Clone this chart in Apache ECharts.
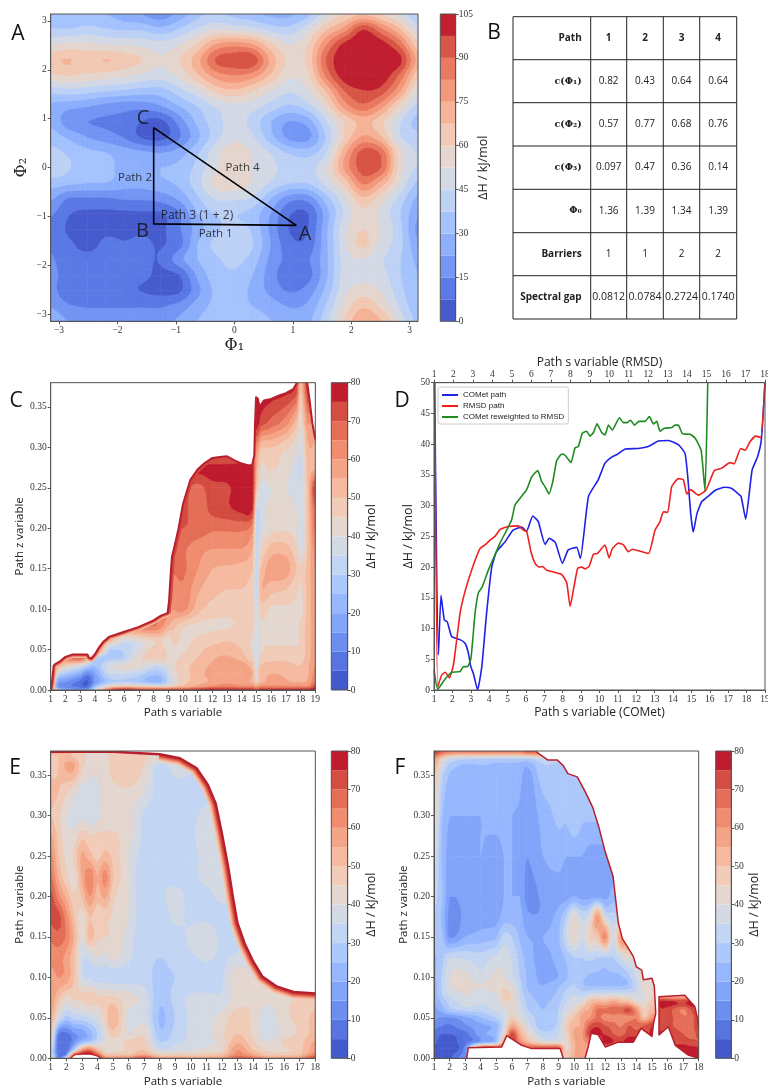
<!DOCTYPE html>
<html><head><meta charset="utf-8">
<script src="https://cdn.jsdelivr.net/npm/echarts@6/dist/echarts.min.js"></script>
<style>html,body{margin:0;background:#fff}#c{width:768px;height:1088px}</style></head>
<body><div id="c"></div>
<script>
const X = null; // outside of the explored region (covered by the white mask)
const W = 90;   // above the colour range: left white, as in the figure
const PI = 3.14159;

// ---------- Panel A: enthalpy surface ----------
const phi1A = [-3.14,-2.83,-2.51,-2.2,-1.88,-1.57,-1.26,-.94,-.63,-.31,0,.31,.63,.94,1.26,1.57,1.88,2.2,2.51,2.83,3.14];
const phi2A = [3.14,2.83,2.51,2.2,1.88,1.57,1.26,.94,.63,.31,0,-.31,-.63,-.94,-1.26,-1.57,-1.88,-2.2,-2.51,-2.83,-3.14];
const enthalpyA = [
[32,30,32,30,26,22,18,25,35,38,35,32,28,28,35,50,60,66,60,50,38],
[38,38,40,38,36,36,32,38,46,52,50,48,42,40,50,66,78,97,84,68,48],
[52,55,55,52,52,50,48,52,62,76,80,76,62,52,60,82,100,104,102,88,62],
[66,68,64,68,64,60,53,60,72,91,94,95,72,58,62,90,104,104,104,100,72],
[58,60,58,56,54,50,48,54,66,78,82,78,66,54,58,84,102,104,103,88,62],
[40,42,40,38,36,34,34,42,50,62,66,60,52,46,52,68,90,97,94,76,52],
[28,25,23,20,18,18,22,30,38,46,50,48,42,36,42,56,78,88,78,58,42],
[28,18,15,14,13,7,5,18,32,42,48,42,30,22,26,44,60,70,62,46,34],
[34,28,22,18,14,6,4,14,28,42,50,46,32,20,20,38,60,76,68,46,40],
[40,36,32,30,26,24,22,26,36,50,58,52,44,36,34,44,72,93,88,56,44],
[44,38,34,32,28,30,30,32,40,52,56,52,46,44,42,52,76,94,90,56,44],
[34,32,30,30,26,26,28,32,42,56,58,52,44,38,38,48,62,84,72,52,36],
[24,14,14,14,16,16,18,24,36,46,46,44,30,18,18,34,50,66,56,42,28],
[16,8,6,6,6,6.5,6.5,14,30,38,38,34,22,8,7,26,46,58,50,38,24],
[14,6,5,6,6,6.5,6,14,26,36,40,36,20,7,7,28,50,60,52,40,20],
[14,9,5,9,8,9,7,12,30,40,44,38,22,10,10,28,50,62,50,40,24],
[16,10,10,10,10,9,8,20,30,36,40,34,20,13,14,28,48,52,46,38,28],
[18,10,10,10,10,9,6,7,24,34,36,30,18,10,12,28,48,50,48,38,30],
[18,8,8,9,9,7,5,6,20,32,34,28,20,14,18,32,50,56,52,40,30],
[22,16,14,14,14,14,14,18,26,32,32,30,26,22,24,38,55,66,58,44,32],
[28,22,22,22,22,22,20,24,30,35,36,34,30,24,28,42,60,75,68,50,35]];
const trianglePhi1 = [-1.38,-1.38,1.06,-1.38];
const trianglePhi2 = [0.82,-1.15,-1.18,0.82];
const labelsA = [["A",1.21,-1.36,20],["B",-1.57,-1.31,20],["C",-1.56,1.0,20],["Path 2",-1.7,-.2,11.5],["Path 4",.14,0,11.5],["Path 3 (1 + 2)",-.64,-.97,12],["Path 1",-.32,-1.36,11.5]];

// ---------- Panel B: table ----------
const tableRows = [
["Path","1","2","3","4"],
["c(Φ₁)","0.82","0.43","0.64","0.64"],
["c(Φ₂)","0.57","0.77","0.68","0.76"],
["c(Φ₃)","0.097","0.47","0.36","0.14"],
["Φ₀","1.36","1.39","1.34","1.39"],
["Barriers","1","1","2","2"],
["Spectral gap","0.0812","0.0784","0.2724","0.1740"]];

// ---------- Panel C ----------
const sC = [1,1.5,2,3,3.5,4,5,6,7,8,8.5,9,9.3,10,11,12,13,14,14.7,15,15.3,16,17,17.7,18,18.5,19];
const zC = [0,.004,.01,.02,.03,.04,.05,.06,.08,.1,.125,.15,.175,.2,.225,.25,.275,.3,.33,.38];
const enthalpyC = [
[60,30,20,15,18,35,68,78,72,70,70,70,72,72,75,78,76,76,76,70,75,76,76,76,76,76,78],
[50,15,12,8,6,25,45,50,48,45,45,45,48,52,58,62,65,62,62,58,62,62,62,62,62,62,72],
[55,18,15,8,4,15,28,30,28,22,24,32,38,48,52,56,58,56,54,45,52,58,56,54,54,56,65],
[70,35,28,20,12,18,35,35,32,26,28,35,42,48,52,58,60,60,55,42,52,55,54,52,52,54,62],
[78,55,45,38,30,25,38,42,42,36,36,40,44,48,52,56,60,58,52,38,50,52,52,50,50,54,60],
[X,78,68,70,58,32,28,30,44,46,48,44,44,46,50,54,56,52,46,36,46,48,48,48,48,52,60],
[X,X,X,X,X,75,30,32,38,48,50,42,44,44,48,52,52,50,44,35,44,46,46,46,46,52,58],
[X,X,X,X,X,X,50,36,40,44,46,40,46,44,46,48,50,48,44,35,44,44,44,44,46,52,58],
[X,X,X,X,X,X,X,X,X,66,62,55,52,46,44,44,44,46,46,37,44,44,44,44,46,52,58],
[X,X,X,X,X,X,X,X,X,X,X,62,60,62,52,48,47,47,47,36,47,44,44,44,42,52,58],
[X,X,X,X,X,X,X,X,X,X,X,X,62,64,56,52,50,50,47,33,54,52,50,46,44,52,58],
[X,X,X,X,X,X,X,X,X,X,X,X,66,66,60,55,54,53,50,33,50,58,58,50,46,52,60],
[X,X,X,X,X,X,X,X,X,X,X,X,70,66,62,60,60,60,55,33,44,52,52,46,38,50,62],
[X,X,X,X,X,X,X,X,X,X,X,X,X,70,68,66,66,66,62,32,38,43,44,42,36,50,66],
[X,X,X,X,X,X,X,X,X,X,X,X,X,72,66,72,74,77,76,36,38,42,42,40,36,50,68],
[X,X,X,X,X,X,X,X,X,X,X,X,X,72,68,73,74,78,78,50,38,40,40,38,36,50,75],
[X,X,X,X,X,X,X,X,X,X,X,X,X,X,76,77,77,78,78,55,44,46,42,38,34,52,X],
[X,X,X,X,X,X,X,X,X,X,X,X,X,X,X,X,X,X,X,62,50,50,46,42,36,54,X],
[X,X,X,X,X,X,X,X,X,X,X,X,X,X,X,X,X,X,X,78,72,68,62,52,42,60,X],
[X,X,X,X,X,X,X,X,X,X,X,X,X,X,X,X,X,X,X,X,79,79,79,76,50,78,X]];
const edgeC = [[[1,0],[1.1,.012],[1.2,.03],[1.3,.032],[1.6,.035],[2,.041],[2.5,.044],[3,.044],[3.5,.044],[3.6,.04],[3.75,.039],[4,.044],[4.3,.053],[4.6,.06],[5,.066],[5.5,.069],[6,.072],[6.5,.075],[7,.078],[7.5,.082],[8,.086],[8.5,.092],[8.95,.095],[9.05,.11],[9.15,.14],[9.25,.165],[9.45,.18],[9.7,.2],[10,.23],[10.5,.26],[11,.273],[11.5,.281],[12,.287],[12.5,.288],[13,.289],[13.5,.284],[14,.28],[14.4,.278],[14.7,.278],[14.85,.29],[14.9,.33],[14.97,.362],[15.1,.36],[15.2,.35],[15.5,.358],[16,.36],[16.5,.364],[17,.367],[17.5,.372],[17.75,.38],[18.45,.38],[18.6,.36],[18.8,.33],[19,.31],[19,.38],[1,.38]]];

// ---------- Panel D ----------
const cometPath = [[1.03,50],[1.24,5.7],[1.38,15.4],[1.56,11.4],[1.72,11.1],[1.96,8.7],[2.41,8.2],[2.69,7.6],[2.87,6],[3,3.8],[3.14,2.7],[3.37,0],[3.6,3.8],[3.86,12.5],[4.14,20],[4.4,22.5],[4.86,24.1],[5.3,26],[5.77,26.5],[6.03,25.8],[6.37,28.3],[6.67,27.4],[7.04,23.7],[7.27,24.7],[7.6,24],[7.98,20.6],[8.3,22.8],[8.76,23.2],[8.96,21.4],[9.4,31.5],[9.93,34.2],[10.3,36.9],[10.66,37.9],[11,38.4],[11.4,39.2],[12.1,39.3],[12.65,39.6],[13.2,40.5],[13.74,40.6],[14.3,39.9],[14.65,38.5],[14.8,34.7],[14.96,28.7],[15.1,25.7],[15.3,28.7],[15.55,30.6],[15.9,31.5],[16.3,32.5],[16.8,33],[17.2,32.8],[17.55,31.9],[17.7,31.5],[17.95,27.8],[18.3,35.8],[18.6,38],[18.8,40.7],[19,50]];
const rmsdPath = [[1.03,50],[1.19,.5],[1.39,2.4],[1.57,2.9],[1.79,2],[2,4.1],[2.34,12.5],[2.59,16],[2.93,19.5],[3.36,23],[3.62,23.6],[3.88,24.4],[4.13,25],[4.39,26.1],[4.82,26.6],[5.33,26.7],[5.59,26],[5.76,25.8],[5.98,22.5],[6.19,20.6],[6.39,20],[6.57,20.1],[6.79,19.5],[7.56,18.8],[7.82,17.4],[7.99,13.6],[8.19,16.8],[8.38,19.8],[8.59,20],[8.76,19.7],[8.96,20.1],[9.19,22.1],[9.39,22.2],[9.78,23.6],[9.99,21.5],[10.16,23],[10.47,23.9],[10.73,23.6],[10.98,22.5],[11.19,22.9],[12.01,22.2],[12.35,26],[12.61,27.4],[12.78,29],[13,28.9],[13.21,33.1],[13.55,34.4],[13.81,34.2],[13.98,31.9],[14.18,32.6],[14.58,31.7],[14.96,32.5],[15.4,35.7],[15.78,36.1],[16.2,37],[16.41,36.8],[16.75,39.3],[16.98,39],[17.23,40.4],[17.52,41.3],[17.78,41.1],[18,50]];
const reweightedPath = [[1,3.3],[1.19,.1],[1.48,1.4],[1.74,2.4],[1.91,2.9],[2.34,3],[2.51,3.8],[2.73,3.8],[2.9,5.2],[3.11,12.5],[3.28,15.8],[3.48,16.8],[3.79,19.5],[4.13,22],[4.39,23.9],[4.78,26.3],[4.99,27.7],[5.16,30.1],[5.42,31.2],[5.76,32.6],[6.02,34.7],[6.33,35.7],[6.53,33.9],[6.7,33.1],[6.91,31.9],[7.1,33.9],[7.3,37.3],[7.56,38.4],[7.73,38.2],[8.04,37],[8.24,39.4],[8.41,39.6],[8.62,41.8],[8.84,42.1],[9.01,41.3],[9.19,41.9],[9.37,43.3],[9.61,41.9],[9.78,41.5],[9.96,43.1],[10.16,42.3],[10.52,44.3],[10.73,43.5],[10.9,43.5],[11.1,43.9],[11.29,43.1],[11.53,43.7],[11.84,43.7],[12.06,44.5],[12.27,43.3],[12.44,43.7],[12.61,42.1],[12.83,42.6],[13.21,42.7],[13.38,43.1],[13.55,43.1],[13.76,41.7],[14.15,41.6],[14.41,41],[14.72,39],[14.92,32.4],[15.06,50]];

// ---------- Panel E ----------
const sE = [1,1.5,2,2.5,3,3.5,4,4.5,5,6,7,8,9,10,11,12,13,14,15,16,17,18];
const zE = [0,.004,.01,.02,.03,.05,.075,.1,.125,.15,.175,.2,.225,.25,.275,.3,.33,.36,.375,.38];
const enthalpyE = [
[50,10,40,W,W,W,85,62,60,62,72,56,58,56,56,58,70,66,58,58,60,74],
[40,8,14,70,80,80,70,50,50,50,56,46,46,46,48,50,62,56,48,48,50,64],
[36,6,6,30,58,66,52,42,42,46,50,36,38,40,42,44,60,50,44,44,48,58],
[45,5,5,14,24,28,35,40,42,46,46,30,34,36,38,42,54,46,40,46,48,56],
[50,10,8,14,17,22,30,40,48,40,44,26,32,36,38,44,50,44,36,42,46,52],
[55,38,28,32,32,35,38,46,55,38,38,24,30,36,38,42,48,44,36,44,46,52],
[60,50,44,46,46,48,46,46,46,42,38,26,32,36,36,36,42,44,42,44,45,46],
[58,60,58,50,36,34,32,32,32,32,32,28,30,30,32,34,44,40,40,X,X,X],
[62,62,58,50,36,36,40,38,42,36,32,30,32,34,36,34,36,X,X,X,X,X],
[66,68,64,54,40,52,46,45,44,38,30,32,33,36,38,34,X,X,X,X,X,X],
[72,72,62,50,42,50,46,46,44,40,30,32,36,34,34,33,X,X,X,X,X,X],
[72,62,54,46,50,60,52,56,46,40,30,34,36,34,34,36,X,X,X,X,X,X],
[66,54,46,42,55,64,55,62,50,40,30,34,34,34,36,36,X,X,X,X,X,X],
[62,50,44,46,56,52,48,52,48,40,32,34,34,34,36,X,X,X,X,X,X,X],
[56,48,42,42,48,46,46,46,46,42,34,34,34,34,38,X,X,X,X,X,X,X],
[50,46,40,38,38,36,38,42,42,42,34,33,34,34,36,X,X,X,X,X,X,X],
[52,50,46,42,38,38,38,44,44,44,40,32,32,34,X,X,X,X,X,X,X,X],
[48,50,56,56,46,42,42,44,46,50,44,32,38,36,X,X,X,X,X,X,X,X],
[50,50,52,48,46,44,44,44,46,46,46,44,X,X,X,X,X,X,X,X,X,X],
[58,58,54,48,46,44,44,44,46,46,46,44,X,X,X,X,X,X,X,X,X,X]];
const edgeE = [[[1,.379],[5,.379],[8,.376],[9.3,.371],[10.36,.359],[11.1,.338],[11.6,.315],[12,.278],[12.4,.237],[12.7,.2],[13,.167],[13.46,.142],[14,.12],[14.6,.101],[15.5,.089],[16.6,.082],[18,.08],[18,.38],[1,.38]]];

// ---------- Panel F ----------
const sF = [1,1.5,2,3,4,5,5.5,6,6.5,7,8,9,9.5,10,10.5,11,11.5,12,12.5,13,13.5,14,14.5,15,15.3,15.5,16,17,17.5,18];
const zF = [0,.012,.02,.03,.04,.05,.06,.07,.08,.09,.1,.125,.15,.175,.2,.25,.3,.35,.37,.38];
const enthalpyF = [
[4,4,4,14,X,X,X,X,X,X,X,X,48,55,60,X,X,X,X,X,X,X,X,X,X,X,X,X,X,76],
[4,3,3,12,70,70,76,78,76,70,70,70,44,54,58,X,X,X,X,X,X,X,X,X,X,X,X,X,76,76],
[6,3,3,8,16,25,58,76,62,52,40,40,42,54,58,62,X,78,75,72,78,X,X,X,X,X,X,74,72,70],
[8,5,5,8,18,24,42,72,55,44,32,35,44,56,58,74,76,74,70,68,72,72,72,76,X,X,76,70,66,72],
[12,10,9,14,18,22,36,56,48,38,26,32,46,54,56,70,74,70,68,64,70,68,70,74,X,X,72,66,66,76],
[16,14,14,18,24,30,36,46,40,34,26,30,42,50,56,60,66,62,62,60,62,64,50,60,X,X,72,66,66,76],
[18,22,28,32,32,36,38,42,38,30,25,30,38,42,52,56,66,66,68,68,72,60,46,52,X,X,72,64,70,76],
[20,26,32,38,36,38,44,44,36,28,24,28,34,38,40,50,54,52,56,52,50,42,40,48,X,X,76,74,76,X],
[22,30,36,40,38,40,46,44,34,26,22,26,32,34,32,34,36,36,36,36,36,36,40,42,X,X,X,X,X,X],
[22,30,40,44,40,44,44,40,32,24,20,24,28,30,26,24,24,24,24,24,26,34,44,44,X,X,X,X,X,X],
[24,30,40,42,36,42,40,36,30,24,18,20,24,28,26,24,24,24,24,24,28,36,44,X,X,X,X,X,X,X],
[24,28,34,34,32,36,38,34,28,22,18,22,26,30,30,32,30,30,30,36,42,X,X,X,X,X,X,X,X,X],
[28,26,14,20,22,24,32,30,24,20,20,24,35,45,35,46,48,62,36,60,X,X,X,X,X,X,X,X,X,X],
[30,24,13,16,18,18,22,22,22,16,16,22,30,42,34,38,60,36,32,X,X,X,X,X,X,X,X,X,X,X],
[32,26,15,17,18,18,20,20,20,13,16,18,18,20,18,18,18,18,22,X,X,X,X,X,X,X,X,X,X,X],
[38,24,18,18,20,18,20,20,18,15,20,22,20,20,20,18,18,X,X,X,X,X,X,X,X,X,X,X,X,X],
[46,26,20,20,20,22,22,20,19,16,22,26,26,30,26,26,X,X,X,X,X,X,X,X,X,X,X,X,X,X],
[50,32,24,20,22,24,24,24,22,17,28,26,26,X,X,X,X,X,X,X,X,X,X,X,X,X,X,X,X,X],
[60,44,34,30,30,28,28,28,28,28,34,X,X,X,X,X,X,X,X,X,X,X,X,X,X,X,X,X,X,X],
[76,70,66,66,66,66,66,66,66,72,X,X,X,X,X,X,X,X,X,X,X,X,X,X,X,X,X,X,X,X]];
const edgeF = [
[[7.5,.38],[8,.373],[8.3,.369],[8.9,.369],[9.3,.362],[9.6,.352],[10.2,.348],[10.7,.33],[11.2,.31],[11.6,.285],[12,.255],[12.5,.225],[12.84,.167],[13.1,.148],[13.8,.126],[14,.113],[14.34,.109],[14.45,.097],[15,.099],[15.15,.089],[15.24,.056],[15.1,.043],[15,.027],[14.3,.037],[13.8,.02],[12.84,.02],[12,.014],[11.55,.029],[11.1,.031],[10.9,.014],[10.7,0],[18,0],[17.33,.004],[16.5,.016],[16.05,.039],[15.45,.029],[15.45,.076],[17.1,.078],[17.75,.064],[18,.043],[18,.38]],
[[9.3,0],[9.1,.012],[7.27,.012],[6.63,.016],[5.67,.028],[5.35,.014],[3.2,.013],[3.1,0]]];

// ---------- axis ticks ----------
const ticksPhi = [-3,-2,-1,0,1,2,3];
const ticksZ = [0,.05,.1,.15,.2,.25,.3,.35];
const ticksBar105 = [0,15,30,45,60,75,90,105];
const ticksBar80 = [0,10,20,30,40,50,60,70,80];

// ---------- styles ----------
const cool = ['#3b4cc0','#5977e3','#7b9ff9','#9ebeff','#c0d4f5','#dddcdc','#f2cbb7','#f7ac8e','#ee8468','#d65244','#b40426'];
function hex(c){return [1,3,5].map(i=>parseInt(c.substr(i,2),16));}
function cmap(t){t=Math.max(0,Math.min(1,t))*10;const i=Math.min(9,Math.floor(t)),f=t-i,a=hex(cool[i]),b=hex(cool[i+1]);
  return 'rgb('+a.map((v,k)=>Math.round(v+(b[k]-v)*f)).join(',')+')';}
const SERIF='"Liberation Serif","DejaVu Serif",serif', SANS='"Open Sans","DejaVu Sans",sans-serif';
const TICK={color:'#333',fontFamily:SERIF,fontSize:9.5};
const LINE={lineStyle:{color:'#555',width:1}};

const grids=[],xAxes=[],yAxes=[],series=[];
function addGrid(l,t,w,h){grids.push({left:l,top:t,width:w,height:h,containLabel:false,outerBoundsMode:'none'});return grids.length-1;}
function xAx(g,o){xAxes.push(Object.assign({type:'value',gridIndex:g,z:6,splitLine:{show:false},axisLine:Object.assign({onZero:false,show:true},LINE),
  axisTick:Object.assign({show:true,length:3},LINE),axisLabel:Object.assign({margin:4},TICK),
  nameLocation:'middle',nameTextStyle:{fontFamily:SANS,fontSize:11.5,color:'#222'}},o));return xAxes.length-1;}
function yAx(g,o){yAxes.push(Object.assign({type:'value',gridIndex:g,z:6,splitLine:{show:false},axisLine:Object.assign({onZero:false,show:true},LINE),
  axisTick:Object.assign({show:true,length:3},LINE),axisLabel:Object.assign({margin:4},TICK),
  nameLocation:'middle',nameTextStyle:{fontFamily:SANS,fontSize:11.5,color:'#222'}},o));return yAxes.length-1;}

// Values under the mask take the nearest readable value of their row.
function under(M){return M.map(r=>r.map((v,i)=>{if(v!==null)return v;
  for(let d=1;d<r.length;d++){if(r[i-d]!=null)return r[i-d];if(r[i+d]!=null)return r[i+d];}return 50;}));}
const cr=(a,b,c,d,t)=>b+.5*t*(c-a+t*(2*a-5*b+4*c-d+t*(3*(b-c)+d-a)));
const SUB=4;
// Filled contour bands for each cell of a value grid, projected through the axes.
function contour(xi,yi,xs,ys,M0,step,vmax,whiteAbove){
  const M=under(M0),nx=xs.length-1,ny=ys.length-1,data=[];
  for(let j=0;j<ny;j++)for(let i=0;i<nx;i++)
    data.push([xs[i],ys[j],xs[i+1],ys[j+1],M[j][i],M[j][i+1],M[j+1][i+1],M[j+1][i],i,j]);
  const n=Math.round(vmax/step),cols=[];
  for(let k=0;k<n;k++)cols.push(cmap((k+.5)/n));
  if(whiteAbove)cols.push('#ffffff');
  const at=(j,i)=>M[Math.max(0,Math.min(ny,j))][Math.max(0,Math.min(nx,i))];
  function val(i,j,u,v){
    const row=q=>cr(at(q,i-1),at(q,i),at(q,i+1),at(q,i+2),u);
    const r=cr(row(j-1),row(j),row(j+1),row(j+2),v);
    const c=[at(j,i),at(j,i+1),at(j+1,i),at(j+1,i+1)];
    return Math.max(Math.min(...c),Math.min(Math.max(...c),r));
  }
  series.push({type:'custom',xAxisIndex:xi,yAxisIndex:yi,clip:true,z:2,silent:true,animation:false,progressive:0,
    encode:{x:[0,2],y:[1,3]},data,
    renderItem(p,api){
      const x0=api.value(0),y0=api.value(1),x1=api.value(2),y1=api.value(3),i=api.value(8),j=api.value(9);
      const A=api.coord([x0,y0]),B=api.coord([x1,y1]);
      const V=[],P=[];let mn=1e9,mx=-1e9;
      for(let b=0;b<=SUB;b++){V.push([]);P.push([]);for(let a=0;a<=SUB;a++){
        const u=a/SUB,w=b/SUB,vv=val(i,j,u,w);V[b].push(vv);P[b].push([A[0]+(B[0]-A[0])*u,A[1]+(B[1]-A[1])*w]);
        mn=Math.min(mn,vv);mx=Math.max(mx,vv);}}
      const ch=[];
      const k0=Math.max(0,Math.min(cols.length-1,Math.floor(mn/step)));
      ch.push({type:'polygon',z2:k0,shape:{points:[A,[B[0],A[1]],B,[A[0],B[1]]]},style:{fill:cols[k0],stroke:cols[k0],lineWidth:.6}});
      for(let k=k0+1;k<cols.length&&k*step<mx;k++){
        const L=k*step;let d='';
        for(let b=0;b<SUB;b++)for(let a=0;a<SUB;a++){
          const qv=[V[b][a],V[b][a+1],V[b+1][a+1],V[b+1][a]],qp=[P[b][a],P[b][a+1],P[b+1][a+1],P[b+1][a]],poly=[];
          for(let q=0;q<4;q++){const r=(q+1)%4,vq=qv[q],vr=qv[r],Q=qp[q],R=qp[r];
            if(vq>=L)poly.push(Q);
            if((vq>=L)!==(vr>=L)){const f=(L-vq)/(vr-vq);poly.push([Q[0]+(R[0]-Q[0])*f,Q[1]+(R[1]-Q[1])*f]);}}
          if(poly.length>2)d+='M'+poly.map(q=>q[0].toFixed(2)+' '+q[1].toFixed(2)).join('L')+'Z';
        }
        if(d)ch.push({type:'path',z2:k,shape:{pathData:d},style:{fill:cols[k],stroke:cols[k],lineWidth:.4}});
      }
      return {type:'group',children:ch};
    }});
}
// Frame around a plot, above its marks.
function frame(xi,yi,x0,y0,x1,y1){
  series.push({type:'custom',xAxisIndex:xi,yAxisIndex:yi,clip:false,z:7,silent:true,animation:false,
    encode:{x:[0,2],y:[1,3]},data:[[x0,y0,x1,y1]],
    renderItem(p,api){const a=api.coord([api.value(0),api.value(1)]),b=api.coord([api.value(2),api.value(3)]);
      return {type:'rect',shape:{x:a[0],y:b[1],width:b[0]-a[0],height:a[1]-b[1]},style:{fill:null,stroke:'#555',lineWidth:1}};}});
}
// White outside of the explored region, with its graded red rim.
// glow entries: half width in px, value for the colour, s range along the edge.
function edge(xi,yi,rings,sMax,zMax,rim,glow){
  series.push({type:'custom',xAxisIndex:xi,yAxisIndex:yi,clip:true,z:3,silent:true,animation:false,
    encode:{x:0,y:1},data:rings.map((r,i)=>[r[0][0],r[0][1],i]),
    renderItem(p,api){
      const ring=rings[api.value(2)],pts=ring.map(q=>api.coord(q));
      const isFrame=(a,b)=>(a[1]===b[1]&&(a[1]===0||a[1]===zMax))||(a[0]===b[0]&&a[0]===sMax);
      const runsFor=(lo,hi)=>{const runs=[];let run=[];
        for(let i=0;i<ring.length-1;i++){const a=ring[i],b=ring[i+1],m=(a[0]+b[0])/2;
          if(isFrame(a,b)||m<lo||m>hi){if(run.length>1)runs.push(run);run=[];continue;}
          if(!run.length)run.push(pts[i]);run.push(pts[i+1]);}
        if(run.length>1)runs.push(run);return runs;};
      const ch=[];let z=0;
      glow.forEach(g=>runsFor(g[2],g[3]).forEach(r=>ch.push({type:'polyline',z2:z++,shape:{points:r},style:{fill:null,stroke:cmap(g[1]/80),lineWidth:g[0]*2,lineJoin:'round'}})));
      ch.push({type:'polygon',z2:z++,shape:{points:pts},style:{fill:'#fff'}});
      runsFor(-1,99).forEach(r=>ch.push({type:'polyline',z2:z++,shape:{points:r},style:{fill:null,stroke:'#b81f2d',lineWidth:rim,lineJoin:'round'}}));
      return {type:'group',children:ch};
    }});
}
function colorbar(l,t,w,h,vmax,step,ticks,gap){
  const g=addGrid(l,t,w,h);
  const xi=xAx(g,{min:0,max:1,show:false});
  const yi=yAx(g,{min:0,max:vmax,position:'right',name:'ΔH / kJ/mol',nameGap:gap,nameRotate:90,
    axisLine:{show:true,onZero:false,lineStyle:{color:'#555',width:1}},
    axisTick:{show:true,length:3,customValues:ticks,lineStyle:{color:'#555'}},
    axisLabel:Object.assign({margin:3,customValues:ticks},TICK),nameTextStyle:{fontFamily:SANS,fontSize:12.5,color:'#222'}});
  const n=Math.round(vmax/step),d=[];for(let k=0;k<n;k++)d.push([0,k*step,1,(k+1)*step,(k+.5)/n]);
  series.push({type:'custom',xAxisIndex:xi,yAxisIndex:yi,z:2,silent:true,animation:false,encode:{x:[0,2],y:[1,3]},data:d,
    renderItem(p,api){const a=api.coord([api.value(0),api.value(1)]),b=api.coord([api.value(2),api.value(3)]);
      return {type:'rect',shape:{x:a[0],y:b[1],width:b[0]-a[0],height:a[1]-b[1]},style:{fill:cmap(api.value(4))}};}});
  frame(xi,yi,0,0,1,vmax);
}
function sPanel(l,t,w,h,sMax,sArr,zArr,M,rings,rim,glow,cbL,cbW,gap){
  const g=addGrid(l,t,w,h);
  const xi=xAx(g,{min:1,max:sMax,interval:1,name:'Path s variable',nameGap:17});
  const yi=yAx(g,{min:0,max:.38,name:'Path z variable',nameGap:23,
    axisTick:{show:true,length:3,customValues:ticksZ,lineStyle:{color:'#555'}},
    axisLabel:Object.assign({margin:4,customValues:ticksZ,formatter:v=>v.toFixed(2)},TICK)});
  contour(xi,yi,sArr,zArr,M,5,80,true);
  edge(xi,yi,rings,sMax,.38,rim,glow);
  frame(xi,yi,1,0,sMax,.38);
  colorbar(cbL,t,cbW,h,80,5,ticksBar80,gap);
}

// Panel A
{
  const g=addGrid(50.7,14,367.3,307.3);
  const xi=xAx(g,{min:-PI,max:PI,name:'Φ₁',nameGap:17,nameTextStyle:{fontFamily:'"DejaVu Serif",serif',fontSize:16,color:'#222'},
    axisTick:{show:true,length:3,customValues:ticksPhi,lineStyle:{color:'#555'}},axisLabel:Object.assign({margin:4,customValues:ticksPhi,formatter:v=>v<0?'−'+(-v):''+v},TICK)});
  const yi=yAx(g,{min:-PI,max:PI,name:'Φ₂',nameGap:21,nameTextStyle:{fontFamily:'"DejaVu Serif",serif',fontSize:16,color:'#222'},
    axisTick:{show:true,length:3,customValues:ticksPhi,lineStyle:{color:'#555'}},axisLabel:Object.assign({margin:4,customValues:ticksPhi,formatter:v=>v<0?'−'+(-v):''+v},TICK)});
  contour(xi,yi,phi1A,phi2A,enthalpyA,7.5,105,false);
  series.push({type:'line',xAxisIndex:xi,yAxisIndex:yi,z:4,silent:true,animation:false,showSymbol:false,
    data:trianglePhi1.map((v,i)=>[v,trianglePhi2[i]]),lineStyle:{color:'#000',width:1.6}});
  series.push({type:'scatter',xAxisIndex:xi,yAxisIndex:yi,z:5,silent:true,animation:false,symbolSize:0,
    data:labelsA.map(r=>({value:[r[1],r[2]],label:{show:true,position:'inside',formatter:r[0],fontFamily:SANS,fontSize:r[3],color:'#111'}}))});
  frame(xi,yi,-PI,-PI,PI,PI);
  colorbar(440.3,14,15.4,307.3,105,7.5,ticksBar105,20);
}
// Panel C
sPanel(50.7,382.7,264.6,307.3,19,sC,zC,enthalpyC,edgeC,2,[[3.5,52,0,9],[2.6,60,0,9],[1.8,70,0,9],[3,73,9,13]],331.3,16.4,17);
// Panel D
{
  const g=addGrid(434,382.7,331,307.3);
  const xi=xAx(g,{min:1,max:19,interval:1,name:'Path s variable (COMet)',nameGap:17,nameTextStyle:{fontFamily:SANS,fontSize:12,color:'#222'}});
  const yi=yAx(g,{min:0,max:50,interval:5,name:'ΔH / kJ/mol',nameGap:19,nameTextStyle:{fontFamily:SANS,fontSize:12.5,color:'#222'}});
  const xt=xAx(g,{min:1,max:18,interval:1,position:'top',name:'Path s variable (RMSD)',nameGap:13,nameTextStyle:{fontFamily:SANS,fontSize:12,color:'#222'},axisLabel:Object.assign({margin:3},TICK)});
  const ln=(name,d,c,x)=>series.push({type:'line',name,xAxisIndex:x,yAxisIndex:yi,data:d,showSymbol:false,smooth:.15,silent:true,animation:false,clip:true,z:3,lineStyle:{color:c,width:1.6},itemStyle:{color:c}});
  ln('COMet path',cometPath,'#2020e8',xi);
  ln('RMSD path',rmsdPath,'#f02020',xt);
  ln('COMet reweighted to RMSD',reweightedPath,'#1f8c1f',xt);
  frame(xi,yi,1,0,19,50);
}
// Panels E, F
const glowE=[[7,48,8.5,99],[6,53,8.5,99],[5,58,8.5,99],[4.2,63,8.5,99],[3.4,68,8.5,99],[2.6,73,8.5,99]];
sPanel(50.7,751,264.6,307.3,18,sE,zE,enthalpyE,edgeE,2.5,glowE,331.3,16.4,17);
sPanel(434,751,264.7,307.3,18,sF,zF,enthalpyF,edgeF,1.5,[],715.7,15.6,16);

// Panel letters and table B
const gfx=[];
[["A",18,34],["B",494,33],["C",16,401],["D",402,401],["E",15,768],["F",400,768]].forEach(l=>
  gfx.push({type:'text',x:l[1],y:l[2],silent:true,z:20,style:{text:l[0],fontFamily:SANS,fontSize:21,fill:'#111',align:'center',verticalAlign:'middle'}}));
const tx=[513,590.7,626.7,663.3,699.7,736.7], ty=[16.7,59.7,102.7,146,189.3,232.7,275.7,319];
tx.forEach(x=>gfx.push({type:'line',silent:true,shape:{x1:x,y1:ty[0],x2:x,y2:ty[7]},style:{stroke:'#222',lineWidth:1}}));
ty.forEach(y=>gfx.push({type:'line',silent:true,shape:{x1:tx[0],y1:y,x2:tx[5],y2:y},style:{stroke:'#222',lineWidth:1}}));
tableRows.forEach((r,j)=>r.forEach((c,i)=>{
  const y=(ty[j]+ty[j+1])/2;
  const head=j===0||(i===0&&j>=5);
  const isMath=i===0&&j>=1&&j<=4;
  gfx.push({type:'text',silent:true,x:i===0?581.7:(tx[i]+tx[i+1])/2,y,style:{text:c,align:i===0?'right':'center',verticalAlign:'middle',
    fontFamily:isMath?'"DejaVu Serif",serif':SANS,fontWeight:(head||isMath)?'bold':'normal',fontSize:(i>0&&j===6)?10.5:(isMath?9.5:10),fill:'#222'}});
}));

const chart=echarts.init(document.getElementById('c'),null,{renderer:'canvas'});
chart.setOption({animation:false,backgroundColor:'#fff',grid:grids,xAxis:xAxes,yAxis:yAxes,series,graphic:gfx,
  legend:{show:true,orient:'vertical',left:438,top:387,data:['COMet path','RMSD path','COMet reweighted to RMSD'],
    itemWidth:16,itemHeight:2,itemGap:3,padding:[4,4,3,4],borderColor:'#ccc',borderWidth:1,borderRadius:2,backgroundColor:'rgba(255,255,255,.85)',
    icon:'rect',textStyle:{fontFamily:'"Liberation Sans",sans-serif',fontSize:8,color:'#222'}}});
</script></body></html>
